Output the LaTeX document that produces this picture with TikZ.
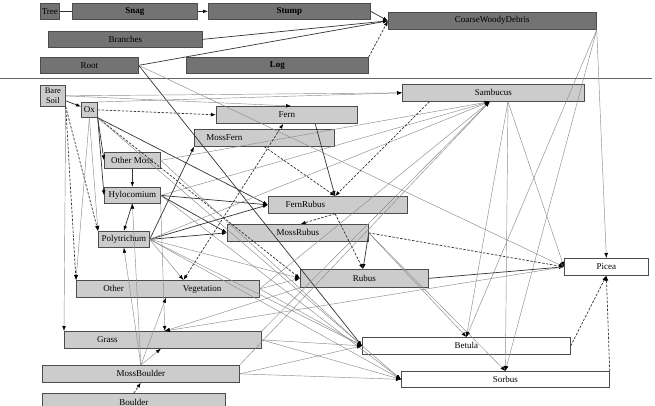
\documentclass[tikz,border=0pt]{standalone}
\usepackage{fontspec}
\setmainfont{Liberation Serif}
\usetikzlibrary{arrows.meta,calc}
\begin{document}
\begin{tikzpicture}[x=1pt,y=-1pt,
  box/.style={draw=black!70,line width=0.7pt,inner sep=0pt,anchor=north west,font=\fontsize{9}{10}\selectfont,text=black},
  dkbox/.style={box,fill=black!55},
  ltbox/.style={box,fill=black!20},
  whbox/.style={box,fill=white},
  tip/.style={-{Latex[length=5pt,width=3.6pt,color=black]}},
  dk/.style={tip,draw=black!80,line width=0.7pt},
  lt/.style={tip,draw=black!45,line width=0.45pt},
  ds/.style={tip,draw=black!80,line width=0.7pt,dash pattern=on 2.5pt off 1.5pt},
  plain/.style={draw=black!80,line width=0.7pt},
]
\clip (0,0) rectangle (655,406);
\fill[white] (0,0) rectangle (655,406);
% ---- top section
\node[dkbox,minimum width=19pt,minimum height=16pt] (tree) at (40,3) {Tree};
\node[dkbox,minimum width=125pt,minimum height=16pt] (snag) at (72,3) {\textbf{Snag}};
\node[dkbox,minimum width=162pt,minimum height=16pt] (stump) at (208,3) {\textbf{Stump}};
\node[dkbox,minimum width=154pt,minimum height=16pt] (branches) at (48,31) {Branches};
\node[dkbox,minimum width=98pt,minimum height=16pt] (root) at (40,57) {Root};
\node[dkbox,minimum width=182pt,minimum height=16pt] (logn) at (186,57) {\textbf{Log}};
\node[dkbox,minimum width=208pt,minimum height=17pt] (cwd) at (388,12) {CoarseWoodyDebris};
\draw[black!60,line width=0.6pt] (0,78) -- (652,78);
% ---- lower section
\node[ltbox,minimum width=25pt,minimum height=21pt,align=center,font=\fontsize{8.5}{9.5}\selectfont] (bare) at (40,85) {Bare\\Soil};
\node[ltbox,minimum width=16pt,minimum height=15pt] (ox) at (81,102) {Ox};
\node[ltbox,minimum width=56pt,minimum height=16pt] (om) at (104,152) {Other Moss};
\node[ltbox,minimum width=56pt,minimum height=16pt] (hylo) at (104,187) {Hylocomium};
\node[ltbox,minimum width=51pt,minimum height=16pt] (pol) at (98,231) {Polytrichum};
\node[ltbox,minimum width=183pt,minimum height=17pt] (ov) at (76,280) {Other\hspace{59pt}Vegetation\hspace{11pt}\mbox{}};
\node[ltbox,minimum width=197pt,minimum height=17pt] (grass) at (64,331) {Grass\hspace{111pt}\mbox{}};
\node[ltbox,minimum width=197pt,minimum height=17pt] (mb) at (42,365) {MossBoulder};
\node[ltbox,minimum width=183pt,minimum height=18pt] (boulder) at (42,393) {Boulder};
\node[ltbox,minimum width=141pt,minimum height=17pt] (fern) at (216,106) {Fern};
\node[ltbox,minimum width=140pt,minimum height=17pt] (mossfern) at (194,129) {MossFern\hspace{80pt}\mbox{}};
\node[ltbox,minimum width=139pt,minimum height=17pt] (fernrubus) at (268,196) {FernRubus\hspace{65pt}\mbox{}};
\node[ltbox,minimum width=141pt,minimum height=17pt] (mossrubus) at (227,224) {MossRubus};
\node[ltbox,minimum width=128pt,minimum height=18pt] (rubus) at (300,269) {Rubus};
\node[ltbox,minimum width=182pt,minimum height=17pt] (samb) at (402,84) {Sambucus};
\node[whbox,minimum width=84pt,minimum height=17pt] (picea) at (564,258) {Picea};
\node[whbox,minimum width=208pt,minimum height=17pt] (betula) at (362,337) {Betula};
\node[whbox,minimum width=208pt,minimum height=16pt] (sorbus) at (401,371) {Sorbus};
% ---- helper points on box edges
\coordinate (sambB) at ($(samb.south west)!0.48!(samb.south east)$);
\coordinate (sambS) at ($(samb.south west)!0.58!(samb.south east)$);
\coordinate (sambD) at ($(samb.south west)!0.15!(samb.south east)$);
\coordinate (fernB) at ($(fern.south west)!0.475!(fern.south east)$);
\coordinate (fernS) at ($(fern.south west)!0.70!(fern.south east)$);
\coordinate (fernT) at ($(fern.north west)!0.53!(fern.north east)$);
\coordinate (frT) at ($(fernrubus.north west)!0.48!(fernrubus.north east)$);
\coordinate (frB) at ($(fernrubus.south west)!0.48!(fernrubus.south east)$);
\coordinate (mrT) at ($(mossrubus.north west)!0.52!(mossrubus.north east)$);
\coordinate (rubT) at ($(rubus.north west)!0.49!(rubus.north east)$);
\coordinate (ovT) at ($(ov.north west)!0.585!(ov.north east)$);
\coordinate (ovB) at ($(ov.south west)!0.49!(ov.south east)$);
\coordinate (grT) at ($(grass.north west)!0.51!(grass.north east)$);
\coordinate (grB) at ($(grass.south west)!0.49!(grass.south east)$);
% ---- top connectors
\draw[plain] (tree) -- (snag);
\draw[dk] (snag) -- (stump);
\draw[dk] (stump.east) -- (cwd.west);
\draw[dk] (branches.east) -- (cwd.west);
\draw[dk] (root.east) -- (cwd.west);
\draw[ds] (logn.north east) -- (cwd.west);
\draw[lt] (cwd.south east) -- (picea.north);
\draw[lt] (cwd.south east) -- (betula.north);
\draw[lt] (cwd.south east) -- (sorbus.north);
\draw[dk] (root.east) -- (betula.west);
\draw[lt] (root.east) -- (picea.west);
% ---- lower connectors
\draw[dk] (bare) -- (ox);
\draw[lt] (bare.east) -- (samb.west);
\draw[lt] (bare.east) -- (fernT);
\draw[lt] (bare.south east) -- (grass.north west);
\draw[ds] (bare.south east) -- (pol.north west);
\draw[ds] (bare.south east) -- (ov.north west);
\draw[lt] (ox.south) -- (ov.north west);
\draw[dk] (ox.south east) -- (om.west);
\draw[dk] (ox.south east) -- (hylo.west);
\draw[lt] (ox.south) -- (pol.north west);
\draw[ds] (ox.east) -- (fern.west);
\draw[lt] (ox.north east) -- (samb.west);
\draw[dk] (ox.south east) -- (fernrubus.west);
\draw[ds] (ox.south east) -- (rubus.west);
\draw[lt] (ox.south east) -- (sorbus.west);
\draw[dk] (om) -- (hylo);
\draw[lt] (om.east) -- (sambB);
\draw[lt] (om.east) -- (betula.west);
\draw[dk] (hylo.south) -- (pol.north);
\draw[dk] (hylo.east) -- (fernrubus.west);
\draw[dk] (hylo.east) -- (mossrubus.west);
\draw[lt] (hylo.east) -- (sambB);
\draw[lt] (hylo.south east) -- (grT);
\draw[lt] (hylo.east) -- (sorbus.west);
\draw[dk] (pol.east) -- (mossfern.south west);
\draw[dk] (pol.east) -- (fernrubus.west);
\draw[dk] (pol.east) -- (mossrubus.west);
\draw[lt] (pol.east) -- (sambB);
\draw[lt] (pol.east) -- (ovT);
\draw[lt] (pol.east) -- (betula.west);
\draw[lt] (pol.east) -- (sorbus.west);
\draw[lt] (pol.east) -- (rubus.west);
\draw[dk] (fernS) -- (frT);
\draw[ds] (mossfern.south) -- (frT);
\draw[ds,{Latex[length=5pt,width=3.6pt,color=black]}-{Latex[length=5pt,width=3.6pt,color=black]}] (ovT) -- (fernB);
\draw[ds] (sambD) -- (frT);
\draw[ds] (frB) -- (mrT);
\draw[ds] (frB) -- (rubT);
\draw[dk] (mossrubus.east) -- (rubT);
\draw[ds] (mossrubus.east) -- (picea.west);
\draw[lt] (mossrubus.east) -- (betula.north);
\draw[lt] (mossrubus.east) -- (sorbus.north);
\draw[dk] (rubus.east) -- (picea.west);
\draw[lt] (rubus.south west) -- (grT);
\draw[lt] (picea.west) -- (grT);
\draw[lt] (sambS) -- (betula.north);
\draw[lt] (sambS) -- (sorbus.north);
\draw[lt] (sambS) -- (picea.west);
\draw[lt] (ov.east) -- (rubus.west);
\draw[lt] (ov.east) -- (sambB);
\draw[lt] (ov.east) -- (betula.west);
\draw[lt] (grass.east) -- (betula.west);
\draw[lt] (grass.east) -- (sorbus.west);
\draw[lt] (grass.north east) -- (sambB);
\draw[lt] (mb.north) -- (pol.south);
\draw[lt] (mb.north) -- (hylo.south);
\draw[lt] (mb.north) -- (ovB);
\draw[lt] (mb.north) -- (grB);
\draw[lt] (mb.east) -- (betula.west);
\draw[lt] (mb.east) -- (sorbus.west);
\draw[lt] (mb.north east) -- (sambB);
\draw[ds] (boulder.north) -- (mb.south);
\draw[ds] (betula.east) -- (picea.south);
\draw[ds] (sorbus.north east) -- (picea.south);
\end{tikzpicture}
\end{document}
